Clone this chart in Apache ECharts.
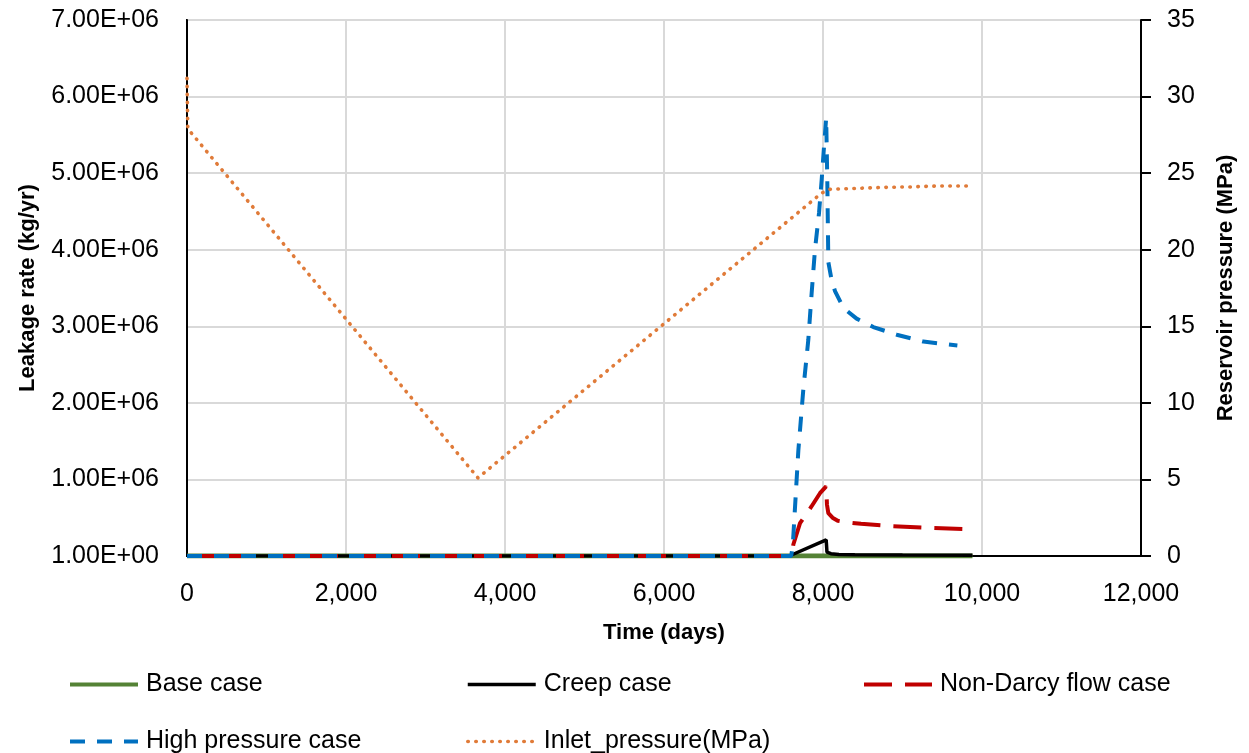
<!DOCTYPE html>
<html>
<head>
<meta charset="utf-8">
<script src="https://cdn.jsdelivr.net/npm/echarts@6/dist/echarts.min.js"></script>
<style>
  html, body { margin: 0; padding: 0; background: #fff; }
  #chart { width: 1249px; height: 753px; }
</style>
</head>
<body>
<div id="chart"></div>
<script>
// time (days) and leakage rate (kg/yr) per case
const baseTime = [0, 9880];
const baseRate = [0, 0];

const creepTime = [0, 7575, 8040, 8050, 8100, 8200, 8400, 9000, 9880];
const creepRate = [0, 0, 210000, 50000, 30000, 20000, 15000, 12000, 10000];

const nonDarcyTime = [0, 7605, 7627, 7711, 7857, 7962, 8040, 8050, 8067, 8120, 8185, 8300, 8478, 8855, 9262, 9880];
const nonDarcyRate = [0, 0, 150000, 430000, 650000, 820000, 910000, 670000, 560000, 500000, 460000, 440000, 420000, 390000, 370000, 350000];

const highTime = [0, 7600, 7620, 7690, 7752, 7815, 7857, 7899, 7950, 7983, 8013, 8040, 8054, 8067, 8109, 8151, 8256, 8423, 8633, 8927, 9262, 9690];
const highRate = [0, 0, 140000, 1380000, 2170000, 2820000, 3430000, 4000000, 4480000, 4910000, 5350000, 5720000, 4910000, 3840000, 3600000, 3460000, 3240000, 3100000, 2990000, 2890000, 2800000, 2750000];

// inlet pressure (MPa), right axis
const inletTime = [0, 10, 3660, 7983, 8088, 8400, 8755, 9100, 9430, 9850];
const inletPressure = [31.2, 27.9, 5.1, 23.7, 23.95, 24.0, 24.07, 24.1, 24.16, 24.16];

const leftTickLabels = ["1.00E+00", "1.00E+06", "2.00E+06", "3.00E+06", "4.00E+06", "5.00E+06", "6.00E+06", "7.00E+06"];

const seriesNames = ["Base case", "Creep case", "Non-Darcy flow case", "High pressure case", "Inlet_pressure(MPa)"];

function pairs(xs, ys) {
  return xs.map((x, i) => [x, ys[i]]);
}

const font = "Liberation Sans";

const styles = [
  { color: "#548235", width: 5, type: "solid" },
  { color: "#000", width: 3.5, type: "solid" },
  { color: "#c00000", width: 4, type: [28, 13] },
  { color: "#0070c0", width: 4, type: [15, 12] },
  { color: "#e07b39", width: 3.6, type: [0.5, 7.5], cap: "round" },
];

function legendAt(i, left, top) {
  return {
    data: [seriesNames[i]],
    left: left,
    top: top,
    itemWidth: 68,
    itemHeight: 14,
    padding: 0,
    itemStyle: { color: "transparent", borderWidth: 0 },
    lineStyle: Object.assign({}, styles[i], { width: Math.min(styles[i].width, 4) }),
    textStyle: { fontFamily: font, fontSize: 25, color: "#000", padding: [0, 0, 0, 3] },
  };
}

function lineSeries(i, data, axis) {
  return {
    name: seriesNames[i],
    type: "line",
    yAxisIndex: axis,
    symbol: "none",
    data: data,
    lineStyle: styles[i],
    itemStyle: { color: styles[i].color },
  };
}

const chart = echarts.init(document.getElementById("chart"), null, { renderer: "canvas" });

const options = {
  animation: false,
  backgroundColor: "#fff",
  grid: {
    left: 187,
    right: 108,
    top: 20,
    bottom: 197,
    show: true,
    borderColor: "#000",
    borderWidth: 2,
  },
  legend: [
    legendAt(0, 68, 672),
    legendAt(1, 466, 672),
    legendAt(2, 862, 672),
    legendAt(3, 68, 729),
    legendAt(4, 466, 729),
  ],
  xAxis: {
    type: "value",
    min: 0,
    max: 12000,
    interval: 2000,
    name: "Time (days)",
    nameLocation: "middle",
    nameGap: 66,
    nameTextStyle: { fontFamily: font, fontSize: 22, fontWeight: "bold", color: "#000" },
    axisLine: { show: true, lineStyle: { color: "#000", width: 2 } },
    axisTick: { show: false },
    axisLabel: {
      fontFamily: font,
      fontSize: 25,
      color: "#000",
      margin: 26,
      formatter: function (value) {
        return value.toLocaleString("en-US");
      },
    },
    splitLine: { show: true, lineStyle: { color: "#d9d9d9", width: 2 } },
  },
  yAxis: [
    {
      type: "value",
      min: 0,
      max: 7000000,
      interval: 1000000,
      name: "Leakage rate (kg/yr)",
      nameLocation: "middle",
      nameGap: 148,
      nameTextStyle: { fontFamily: font, fontSize: 22, fontWeight: "bold", color: "#000" },
      axisLine: { show: true, lineStyle: { color: "#000", width: 2 } },
      axisTick: { show: false },
      axisLabel: {
        fontFamily: font,
        fontSize: 25,
        color: "#000",
        margin: 28,
        formatter: function (value) {
          return leftTickLabels[Math.round(value / 1000000)];
        },
      },
      splitLine: { show: true, lineStyle: { color: "#d9d9d9", width: 2 } },
    },
    {
      type: "value",
      min: 0,
      max: 35,
      interval: 5,
      position: "right",
      name: "Reservoir pressure (MPa)",
      nameLocation: "middle",
      nameGap: 74,
      nameRotate: 90,
      nameTextStyle: { fontFamily: font, fontSize: 22, fontWeight: "bold", color: "#000" },
      axisLine: { show: true, lineStyle: { color: "#000", width: 2 } },
      axisTick: { show: true, inside: false, length: 10, lineStyle: { color: "#000", width: 2 } },
      axisLabel: { fontFamily: font, fontSize: 25, color: "#000", margin: 26 },
      splitLine: { show: false },
    },
  ],
  series: [
    lineSeries(0, pairs(baseTime, baseRate), 0),
    lineSeries(1, pairs(creepTime, creepRate), 0),
    lineSeries(2, pairs(nonDarcyTime, nonDarcyRate), 0),
    lineSeries(3, pairs(highTime, highRate), 0),
    lineSeries(4, pairs(inletTime, inletPressure), 1),
  ],
};

chart.setOption(options);
</script>
</body>
</html>
